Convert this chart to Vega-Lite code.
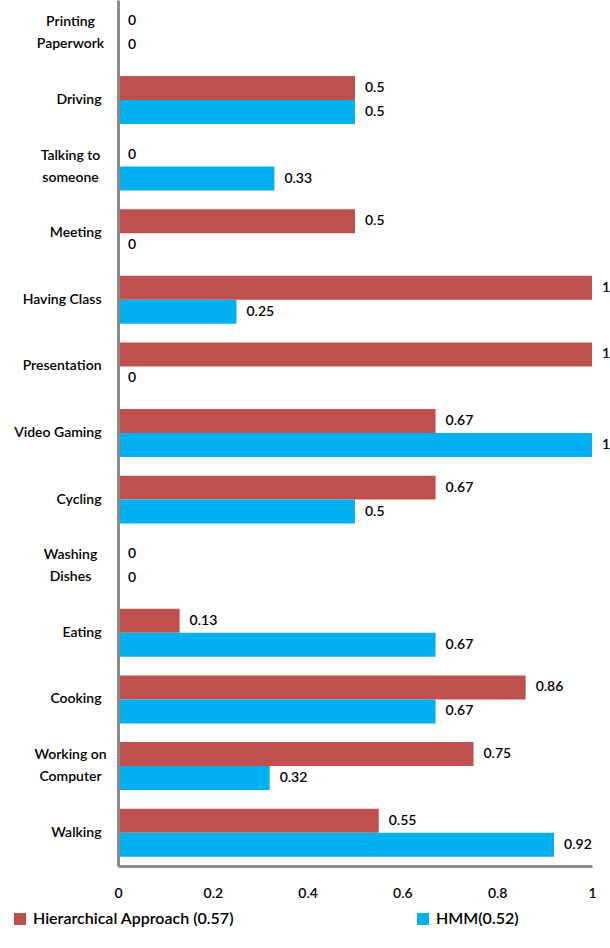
{
  "$schema": "https://vega.github.io/schema/vega-lite/v6.json",
  "autosize": {"type": "none"},
  "padding": {"left": 118, "top": 0, "right": 18, "bottom": 82},
  "width": 474,
  "height": 866,
  "background": "white",
  "config": {"view": {"stroke": null}, "font": "Lato"},
  "data": {"values": [
    {"activity": "Printing Paperwork", "series": "Hierarchical Approach (0.57)", "value": 0},
    {"activity": "Printing Paperwork", "series": "HMM(0.52)", "value": 0},
    {"activity": "Driving", "series": "Hierarchical Approach (0.57)", "value": 0.5},
    {"activity": "Driving", "series": "HMM(0.52)", "value": 0.5},
    {"activity": "Talking to someone", "series": "Hierarchical Approach (0.57)", "value": 0},
    {"activity": "Talking to someone", "series": "HMM(0.52)", "value": 0.33},
    {"activity": "Meeting", "series": "Hierarchical Approach (0.57)", "value": 0.5},
    {"activity": "Meeting", "series": "HMM(0.52)", "value": 0},
    {"activity": "Having Class", "series": "Hierarchical Approach (0.57)", "value": 1},
    {"activity": "Having Class", "series": "HMM(0.52)", "value": 0.25},
    {"activity": "Presentation", "series": "Hierarchical Approach (0.57)", "value": 1},
    {"activity": "Presentation", "series": "HMM(0.52)", "value": 0},
    {"activity": "Video Gaming", "series": "Hierarchical Approach (0.57)", "value": 0.67},
    {"activity": "Video Gaming", "series": "HMM(0.52)", "value": 1},
    {"activity": "Cycling", "series": "Hierarchical Approach (0.57)", "value": 0.67},
    {"activity": "Cycling", "series": "HMM(0.52)", "value": 0.5},
    {"activity": "Washing Dishes", "series": "Hierarchical Approach (0.57)", "value": 0},
    {"activity": "Washing Dishes", "series": "HMM(0.52)", "value": 0},
    {"activity": "Eating", "series": "Hierarchical Approach (0.57)", "value": 0.13},
    {"activity": "Eating", "series": "HMM(0.52)", "value": 0.67},
    {"activity": "Cooking", "series": "Hierarchical Approach (0.57)", "value": 0.86},
    {"activity": "Cooking", "series": "HMM(0.52)", "value": 0.67},
    {"activity": "Working on Computer", "series": "Hierarchical Approach (0.57)", "value": 0.75},
    {"activity": "Working on Computer", "series": "HMM(0.52)", "value": 0.32},
    {"activity": "Walking", "series": "Hierarchical Approach (0.57)", "value": 0.55},
    {"activity": "Walking", "series": "HMM(0.52)", "value": 0.92}
  ]},
  "encoding": {
    "y": {
      "field": "activity",
      "type": "nominal",
      "sort": ["Printing Paperwork", "Driving", "Talking to someone", "Meeting", "Having Class", "Presentation", "Video Gaming", "Cycling", "Washing Dishes", "Eating", "Cooking", "Working on Computer", "Walking"],
      "scale": {"paddingInner": 0.28, "paddingOuter": 0.14},
      "axis": {
        "title": null,
        "ticks": false,
        "labelPadding": {"condition": {"test": "indexof(['Printing Paperwork', 'Talking to someone', 'Washing Dishes', 'Working on Computer'], datum.value) >= 0", "value": 48}, "value": 17},
        "labelAlign": {"condition": {"test": "indexof(['Printing Paperwork', 'Talking to someone', 'Washing Dishes', 'Working on Computer'], datum.value) >= 0", "value": "center"}, "value": "right"},
        "labelFontSize": 14,
        "labelFontWeight": 600,
        "labelColor": "#000000",
        "labelLineHeight": 22,
        "labelLimit": 200,
        "labelOffset": {"condition": {"test": "indexof(['Printing Paperwork', 'Talking to someone', 'Washing Dishes', 'Working on Computer'], datum.value) >= 0", "value": -11}, "value": 0},
        "domainColor": "#8C8C8C",
        "domainWidth": 3,
        "zindex": 1,
        "labelExpr": "datum.value == 'Printing Paperwork' ? ['Printing', 'Paperwork'] : datum.value == 'Talking to someone' ? ['Talking to', 'someone'] : datum.value == 'Washing Dishes' ? ['Washing', 'Dishes'] : datum.value == 'Working on Computer' ? ['Working on', 'Computer'] : datum.value"
      }
    },
    "yOffset": {
      "field": "series",
      "type": "nominal",
      "sort": ["Hierarchical Approach (0.57)", "HMM(0.52)"],
      "scale": {"paddingInner": 0, "paddingOuter": 0}
    },
    "x": {
      "field": "value",
      "type": "quantitative",
      "scale": {"domain": [0, 1], "nice": false},
      "axis": {
        "title": null,
        "orient": "bottom",
        "values": [0, 0.2, 0.4, 0.6, 0.8, 1],
        "format": "~g",
        "ticks": false,
        "grid": false,
        "labelPadding": 20,
        "labelBaseline": "top",
        "labelFontSize": 14,
        "labelFontWeight": 600,
        "labelColor": "#000000",
        "labelFlush": false,
        "domain": true,
        "domainColor": "#8C8C8C",
        "domainWidth": 3,
        "zindex": 1
      }
    }
  },
  "layer": [
    {
      "mark": {"type": "bar"},
      "encoding": {
        "color": {
          "field": "series",
          "type": "nominal",
          "scale": {"domain": ["Hierarchical Approach (0.57)", "HMM(0.52)"], "range": ["#C0504D", "#00B0F0"]},
          "legend": {
            "title": null,
            "orient": "none",
            "legendX": -106,
            "legendY": 911,
            "direction": "horizontal",
            "symbolType": "square",
            "symbolSize": 144,
            "symbolStrokeWidth": 0,
            "labelFontSize": 16,
            "labelFontWeight": 600,
            "labelColor": "#000000",
            "labelOffset": 5,
            "columnPadding": 180,
            "labelLimit": 300
          }
        }
      }
    },
    {
      "mark": {"type": "text", "align": "left", "baseline": "middle", "dx": 10, "fontSize": 14, "fontWeight": 600, "color": "#000000"},
      "encoding": {
        "text": {"field": "value", "type": "quantitative"}
      }
    }
  ]
}
